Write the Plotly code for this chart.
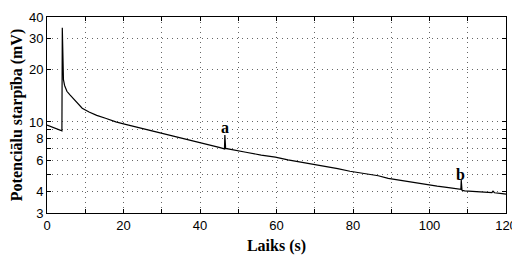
import math
import plotly.graph_objects as go

time_s = [0, 1, 2, 3, 3.6, 3.9, 4.0, 4.15, 4.3, 4.6, 5.2, 6, 7, 8, 9.2, 11, 13, 15.3, 18, 20, 23, 26.6, 30, 34.4,
          38, 42, 45, 46.4, 46.5, 46.7, 48, 52, 56, 59.7, 63, 66, 69.2, 72, 76, 79.2, 83, 86.6, 89.2,
          92, 95, 97, 99.7, 102, 105, 107.5, 108.2, 108.3, 108.5, 109.2, 112, 114, 116.3, 116.6, 117, 119, 120]
potential_mv = [9.6, 9.4, 9.2, 9.0, 8.9, 8.9, 34.7, 22, 17.5, 16.2, 15.0, 14.3, 13.5, 12.9, 12.0, 11.4, 10.9, 10.5, 10.0, 9.75, 9.4, 8.94, 8.6, 8.13,
                7.8, 7.45, 7.15, 7.0, 8.4, 7.05, 6.95, 6.7, 6.45, 6.28, 6.05, 5.9, 5.76, 5.6, 5.4, 5.21, 5.05, 4.91, 4.74,
                4.63, 4.52, 4.46, 4.35, 4.28, 4.2, 4.13, 4.1, 4.64, 4.05, 4.02, 3.98, 3.96, 3.93, 4.0, 3.92, 3.88, 3.85]

x_ticks = list(range(0, 121, 10))
x_labels = [str(v) if v % 20 == 0 else "" for v in x_ticks]
y_ticks = [3, 4, 5, 6, 7, 8, 9, 10, 20, 30, 40]
y_labels = ["3", "4", "", "6", "", "8", "", "10", "20", "30", "40"]

notes_x = [46.5, 108.0]
notes_y = [9.3, 5.0]
notes_text = ["a", "b"]

fig = go.Figure()
fig.add_trace(go.Scatter(x=time_s, y=potential_mv, mode="lines",
                         line=dict(color="black", width=1.2), showlegend=False))

for xv, yv, t in zip(notes_x, notes_y, notes_text):
    fig.add_annotation(x=xv, y=math.log10(yv), text="<b>" + t + "</b>", showarrow=False,
                       font=dict(family="Liberation Serif", size=16, color="black"),
                       xanchor="center", yanchor="middle")

axis_common = dict(showline=True, linecolor="black", linewidth=1, mirror="ticks",
                   ticks="inside", ticklen=4, tickcolor="black",
                   showgrid=True, gridcolor="#666666", griddash="1px,4px", gridwidth=1,
                   zeroline=False, automargin=False,
                   tickfont=dict(family="Liberation Sans", size=13, color="black"))

fig.update_xaxes(range=[0, 120], tickvals=x_ticks, ticktext=x_labels,
                 title=dict(text="<b>Laiks (s)</b>", font=dict(family="Liberation Serif", size=16, color="black"),
                            standoff=8), **axis_common)
fig.update_yaxes(type="log", range=[math.log10(3), math.log10(40.05)], tickvals=y_ticks, ticktext=y_labels,
                 title=dict(text="<b>Potenciālu starpība (mV)</b>",
                            font=dict(family="Liberation Serif", size=16, color="black"), standoff=6),
                 **axis_common)

# page body adds an 8px offset, so the figure is sized to fit inside the 520x255 window
fig.update_layout(width=512, height=247, margin=dict(l=39, r=14, t=9, b=42),
                  plot_bgcolor="white", paper_bgcolor="white")
fig.write_html("out.html")
